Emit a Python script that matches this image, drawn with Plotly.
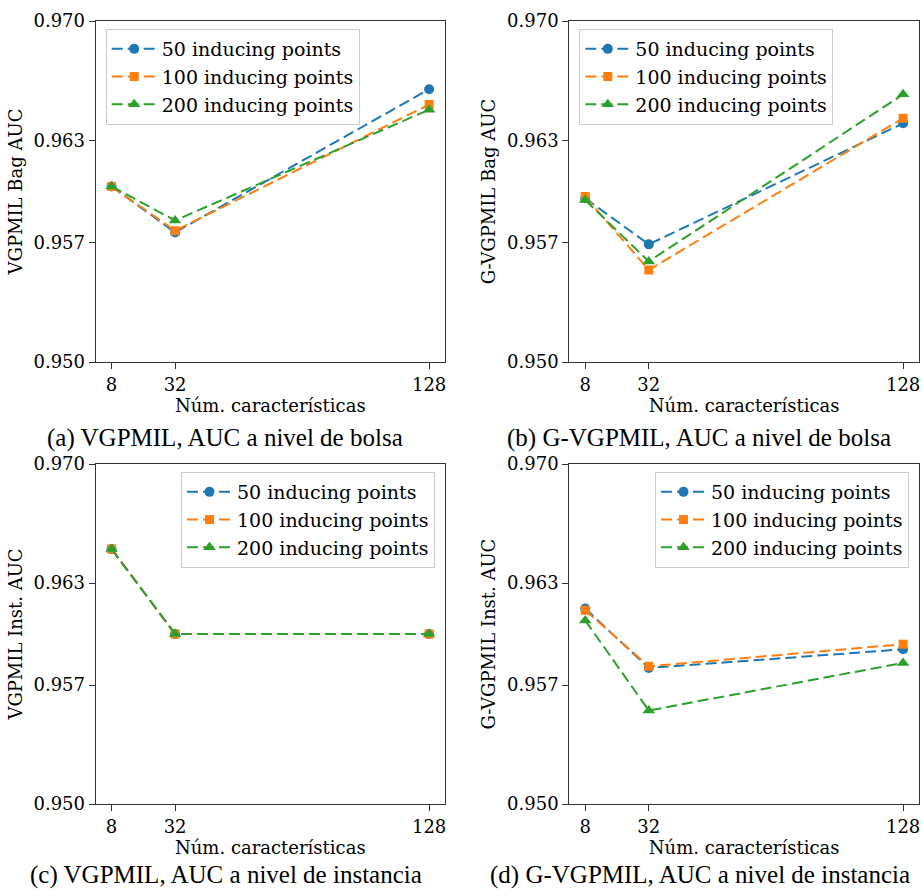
import plotly.graph_objects as go

features = [8, 32, 128]
series_labels = ["50 inducing points", "100 inducing points", "200 inducing points"]

a_50 = [0.9603, 0.9576, 0.9660]
a_100 = [0.9603, 0.9577, 0.9651]
a_200 = [0.9603, 0.9583, 0.9648]

b_50 = [0.9596, 0.9569, 0.9640]
b_100 = [0.9597, 0.9554, 0.9643]
b_200 = [0.9595, 0.9559, 0.9657]

c_50 = [0.9650, 0.9600, 0.9600]
c_100 = [0.9650, 0.9600, 0.9600]
c_200 = [0.9650, 0.9600, 0.9600]

d_50 = [0.9615, 0.9580, 0.9591]
d_100 = [0.9614, 0.9581, 0.9594]
d_200 = [0.9608, 0.9555, 0.9583]

y_ticks = [0.950, 0.957, 0.963, 0.970]
y_tick_labels = ["0.950", "0.957", "0.963", "0.970"]
x_ticks = [8, 32, 128]
x_title = "Núm. características"
y_titles = ["VGPMIL Bag AUC", "G-VGPMIL Bag AUC", "VGPMIL Inst. AUC", "G-VGPMIL Inst. AUC"]
captions = ["(a) VGPMIL, AUC a nivel de bolsa", "(b) G-VGPMIL, AUC a nivel de bolsa",
            "(c) VGPMIL, AUC a nivel de instancia", "(d) G-VGPMIL, AUC a nivel de instancia"]

panels = [[a_50, a_100, a_200], [b_50, b_100, b_200], [c_50, c_100, c_200], [d_50, d_100, d_200]]

colors = ["#1f77b4", "#ff7f0e", "#2ca02c"]
symbols = ["circle", "square", "triangle-up"]
msizes = [10, 9, 11]

W, H = 922, 890
# pixel boxes (x0, x1, ytop, ybottom)
boxes = [(95.7, 445, 21, 362), (569.3, 919, 21, 362), (95.7, 445, 464, 804), (569.3, 919, 464, 804)]
caption_pos = [(225, 438), (699, 438), (226, 875), (700, 875)]

fig = go.Figure()
serif = "DejaVu Serif"
tick_font = dict(family=serif, size=18, color="black")

for i, (vals, box) in enumerate(zip(panels, boxes)):
    ax = "" if i == 0 else str(i + 1)
    leg = "legend" if i == 0 else f"legend{i+1}"
    for j in range(3):
        fig.add_trace(go.Scatter(
            x=features, y=vals[j], name=series_labels[j],
            mode="lines+markers",
            line=dict(color=colors[j], width=2, dash="11px,5px"),
            marker=dict(symbol=symbols[j], size=msizes[j], color=colors[j]),
            xaxis="x" + ax, yaxis="y" + ax, legend=leg,
        ))
    x0, x1, yt, yb = box
    fig.layout["xaxis" + ax] = dict(
        domain=[x0 / W, x1 / W], range=[2, 134], anchor="y" + ax, automargin=False,
        tickvals=x_ticks, ticktext=[str(v) for v in x_ticks],
        ticks="outside", ticklen=6, tickcolor="#333", showgrid=False, zeroline=False,
        showline=True, linecolor="#333", linewidth=1.2, mirror=True,
        tickfont=tick_font,
        title=dict(text=x_title, font=tick_font, standoff=2),
    )
    fig.layout["yaxis" + ax] = dict(
        domain=[1 - yb / H, 1 - yt / H], range=[0.950, 0.970], anchor="x" + ax, automargin=False,
        tickvals=y_ticks, ticktext=y_tick_labels,
        ticks="outside", ticklen=6, tickcolor="#333", showgrid=False, zeroline=False,
        showline=True, linecolor="#333", linewidth=1.2, mirror=True,
        tickfont=tick_font,
        title=dict(text=y_titles[i], font=tick_font, standoff=6),
    )
    legend_cfg = dict(
        font=dict(family=serif, size=19, color="black"),
        bgcolor="rgba(255,255,255,0.85)", bordercolor="#cccccc", borderwidth=1,
        yanchor="top", y=1 - (yt + 8) / H, tracegroupgap=0, itemwidth=45,
    )
    if i < 2:
        legend_cfg.update(xanchor="left", x=(x0 + 10) / W)
    else:
        legend_cfg.update(xanchor="right", x=(x1 - 10) / W)
    fig.layout[leg] = legend_cfg
    cx, cy = caption_pos[i]
    fig.add_annotation(
        text=captions[i], xref="paper", yref="paper",
        x=cx / W, y=1 - cy / H, xanchor="center", yanchor="middle",
        showarrow=False, font=dict(family="Liberation Serif", size=25, color="black"),
    )

fig.update_layout(
    width=W, height=H, margin=dict(l=0, r=0, t=0, b=0),
    paper_bgcolor="white", plot_bgcolor="white", showlegend=True,
    font=dict(family=serif, size=18, color="black"),
)

fig.write_html("out.html")
